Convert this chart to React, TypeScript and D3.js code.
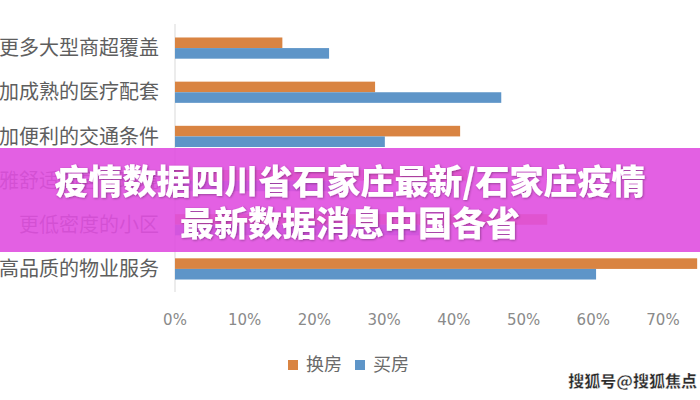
import * as d3 from "d3";

const categories = [
  "更多大型商超覆盖",
  "更加成熟的医疗配套",
  "更加便利的交通条件",
  "更优雅舒适的居住环境",
  "更低密度的小区",
  "更高品质的物业服务",
];
const series = ["换房", "买房"];
const swapValues = [0.154, 0.287, 0.409, 0.419, 0.534, 0.749];
const buyValues = [0.221, 0.468, 0.301, 0.24, 0.35, 0.604];
const ticks = [0, 0.1, 0.2, 0.3, 0.4, 0.5, 0.6, 0.7];
const bannerLines = ["疫情数据四川省石家庄最新/石家庄疫情", "最新数据消息中国各省"];
const watermark = "搜狐号@搜狐焦点";

const colors = ["#d98442", "#5e95c8"];
const W = 700;
const H = 400;
const cjk = "'Noto Sans CJK SC', 'Noto Sans', sans-serif";

export default function App() {
  const x = d3.scaleLinear().domain([0, 0.7]).range([175, 663]);
  const y = d3.scaleBand<string>().domain(categories).range([26, 291]).paddingInner(0.52).paddingOuter(0.26);
  const inner = d3.scaleBand<string>().domain(series).range([0, y.bandwidth()]);
  const fmt = d3.format(".0%");
  const values = [swapValues, buyValues];

  return (
    <svg width={W} height={H} style={{ position: "absolute", left: 0, top: 0, background: "#fff" }}>
      <defs>
        <filter id="ts" x="-5%" y="-20%" width="110%" height="140%">
          <feDropShadow dx="0.8" dy="0.8" stdDeviation="0.8" floodColor="#000" floodOpacity="0.35" />
        </filter>
      </defs>

      {/* category axis */}
      <line x1={x(0)} x2={x(0)} y1={24} y2={292} stroke="#d9d9d9" strokeWidth={1} />
      {categories.map((c) => (
        <text
          key={c}
          x={159}
          y={(y(c) ?? 0) + y.bandwidth() / 2}
          dy="0.36em"
          textAnchor="end"
          fontFamily={cjk}
          fontSize={20}
          fill="#5e5e5e"
        >
          {c}
        </text>
      ))}

      {/* bars */}
      {series.map((s, si) =>
        categories.map((c, ci) => (
          <rect
            key={s + c}
            x={x(0)}
            y={(y(c) ?? 0) + (inner(s) ?? 0)}
            width={x(values[si][ci]) - x(0)}
            height={inner.bandwidth()}
            fill={colors[si]}
          />
        ))
      )}

      {/* value axis labels */}
      {ticks.map((t) => (
        <text
          key={t}
          x={x(t)}
          y={325}
          textAnchor="middle"
          fontFamily="'DejaVu Sans', sans-serif"
          fontSize={15}
          fill="#8a8a8a"
        >
          {fmt(t)}
        </text>
      ))}

      {/* legend */}
      {series.map((s, i) => (
        <g key={s} transform={`translate(${288 + i * 67},360)`}>
          <rect width={10} height={10} fill={colors[i]} />
          <text x={18} y={5} dy="0.36em" fontFamily={cjk} fontSize={18} fill="#6a6a6a">
            {s}
          </text>
        </g>
      ))}

      {/* overlay banner */}
      <rect x={0} y={148} width={W} height={104} fill="#e04fe0" opacity={0.9} />
      {bannerLines.map((l, i) => (
        <text
          key={l}
          x={350}
          y={182 + i * 42}
          dy="0.36em"
          textAnchor="middle"
          fontFamily={cjk}
          fontWeight={900}
          fontSize={34}
          fill="#fff"
          filter="url(#ts)"
        >
          {l}
        </text>
      ))}

      {/* watermark */}
      <text
        x={697}
        y={381}
        dy="0.36em"
        textAnchor="end"
        fontFamily={cjk}
        fontWeight={900}
        fontSize={16}
        fill="#2a2a2a"
        stroke="#fff"
        strokeWidth={0.4}
      >
        {watermark}
      </text>
    </svg>
  );
}
